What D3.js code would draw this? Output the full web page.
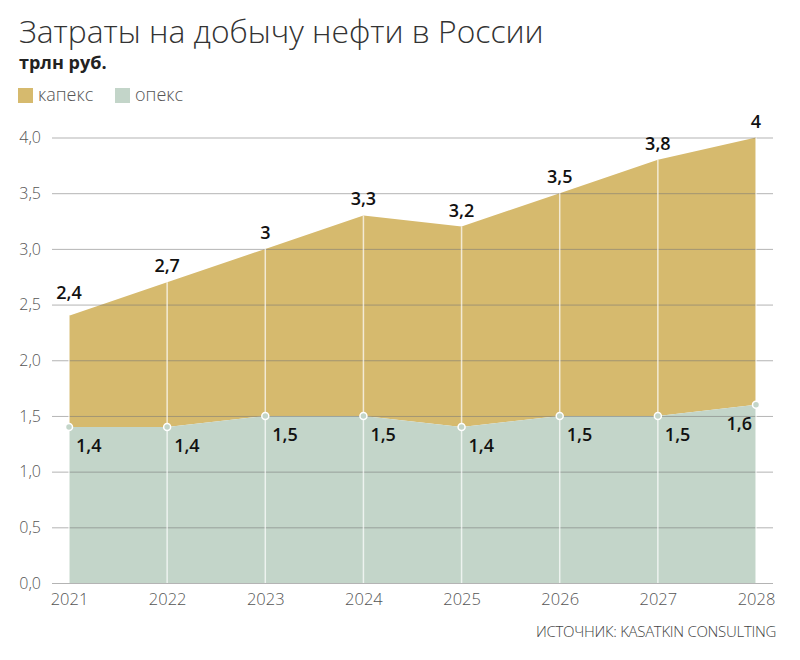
<!DOCTYPE html>
<html>
<head>
<meta charset="utf-8">
<script src="https://cdn.jsdelivr.net/npm/d3@7"></script>
<style>
  body { margin: 0; background: #fff; }
  text { font-family: "Open Sans", sans-serif; }
</style>
</head>
<body>
<script>
var years = [2021, 2022, 2023, 2024, 2025, 2026, 2027, 2028];
var opex = [1.4, 1.4, 1.5, 1.5, 1.4, 1.5, 1.5, 1.6];
var total = [2.4, 2.7, 3, 3.3, 3.2, 3.5, 3.8, 4];
var yTicks = [0, 0.5, 1, 1.5, 2, 2.5, 3, 3.5, 4];

var w = 800;
var h = 660;
var capexColor = '#d6ba6e';
var opexColor = '#c3d5c9';

var fmt = function(d){ return String(d).replace('.', ','); };

var svg = d3.select('body')
    .append('svg')
    .attr('width', w)
    .attr('height', h);

var x = d3.scalePoint()
    .domain(years)
    .range([69, 756]);

var y = d3.scaleLinear()
    .domain([0, 4])
    .range([583, 137.5]);

var rows = years.map(function(d, i){
    return { year: d, opex: opex[i], total: total[i] };
});

// title, units
svg.append('text')
    .attr('x', 19).attr('y', 43)
    .attr('font-size', 31.8).attr('font-weight', 300)
    .attr('fill', '#333')
    .text('Затраты на добычу нефти в России');

svg.append('text')
    .attr('x', 19).attr('y', 69)
    .attr('font-size', 18).attr('font-weight', 700)
    .attr('fill', '#222')
    .text('трлн руб.');

// legend
var legend = [['капекс', capexColor], ['опекс', opexColor]];
var lg = svg.selectAll('.legend')
    .data(legend)
    .enter()
    .append('g')
    .attr('transform', function(d, i){ return 'translate(' + (18 + i * 97) + ',88)'; });
lg.append('rect')
    .attr('width', 15).attr('height', 15)
    .attr('fill', function(d){ return d[1]; });
lg.append('text')
    .attr('x', 20).attr('y', 13)
    .attr('font-size', 18).attr('font-weight', 300)
    .attr('fill', '#555')
    .text(function(d){ return d[0]; });

// areas
var capexArea = d3.area()
    .x(function(d){ return x(d.year); })
    .y0(function(d){ return y(d.opex); })
    .y1(function(d){ return y(d.total); });

var opexArea = d3.area()
    .x(function(d){ return x(d.year); })
    .y0(y(0))
    .y1(function(d){ return y(d.opex); });

svg.append('path').datum(rows).attr('d', capexArea).attr('fill', capexColor);
svg.append('path').datum(rows).attr('d', opexArea).attr('fill', opexColor);

// horizontal grid (over the areas)
var yAxis = d3.axisLeft(y)
    .tickValues(yTicks)
    .tickSize(-(773 - 52))
    .tickPadding(10)
    .tickFormat(function(d){ return d3.format('.1f')(d).replace('.', ','); });

var ga = svg.append('g')
    .attr('transform', 'translate(52,0)')
    .call(yAxis);
ga.select('.domain').remove();
ga.selectAll('.tick line')
    .attr('stroke', '#777')
    .attr('stroke-opacity', 0.55);
ga.selectAll('.tick text')
    .attr('x', -11)
    .attr('font-size', 16).attr('font-weight', 300)
    .attr('font-family', '"Open Sans", sans-serif')
    .attr('fill', '#555');

// vertical white lines
svg.selectAll('.vline')
    .data(rows)
    .enter()
    .append('line')
    .attr('x1', function(d){ return x(d.year); })
    .attr('x2', function(d){ return x(d.year); })
    .attr('y1', y(0))
    .attr('y2', function(d){ return y(d.total); })
    .attr('stroke', '#fff')
    .attr('stroke-opacity', 0.7)
    .attr('stroke-width', 1.5);

// x axis labels
var xAxis = d3.axisBottom(x).tickSize(0).tickPadding(10);
var gx = svg.append('g')
    .attr('transform', 'translate(0,' + y(0) + ')')
    .call(xAxis);
gx.select('.domain').remove();
gx.selectAll('.tick text')
    .attr('font-size', 16.5).attr('font-weight', 300)
    .attr('font-family', '"Open Sans", sans-serif')
    .attr('fill', '#555');

// opex markers
svg.selectAll('.dot')
    .data(rows)
    .enter()
    .append('circle')
    .attr('cx', function(d){ return x(d.year); })
    .attr('cy', function(d){ return y(d.opex); })
    .attr('r', 3.5)
    .attr('fill', opexColor)
    .attr('stroke', '#fff')
    .attr('stroke-width', 1.5);

// value labels
svg.selectAll('.tlab')
    .data(rows)
    .enter()
    .append('text')
    .attr('x', function(d){ return x(d.year); })
    .attr('y', function(d, i){ return y(d.total) - (i === 0 ? 17 : 10); })
    .attr('text-anchor', 'middle')
    .attr('font-size', 18).attr('font-weight', 600)
    .attr('fill', '#111')
    .text(function(d){ return fmt(d.total); });

svg.selectAll('.olab')
    .data(rows)
    .enter()
    .append('text')
    .attr('x', function(d, i){ return i === rows.length - 1 ? x(d.year) - 4 : x(d.year) + 7; })
    .attr('y', function(d){ return y(d.opex) + 25; })
    .attr('text-anchor', function(d, i){ return i === rows.length - 1 ? 'end' : 'start'; })
    .attr('font-size', 18).attr('font-weight', 600)
    .attr('fill', '#111')
    .text(function(d){ return fmt(d.opex); });

// source
svg.append('text')
    .attr('x', 776).attr('y', 637)
    .attr('text-anchor', 'end')
    .attr('font-size', 15).attr('font-weight', 300)
    .attr('letter-spacing', -0.3)
    .attr('fill', '#444')
    .text('ИСТОЧНИК: KASATKIN CONSULTING');
</script>
</body>
</html>
